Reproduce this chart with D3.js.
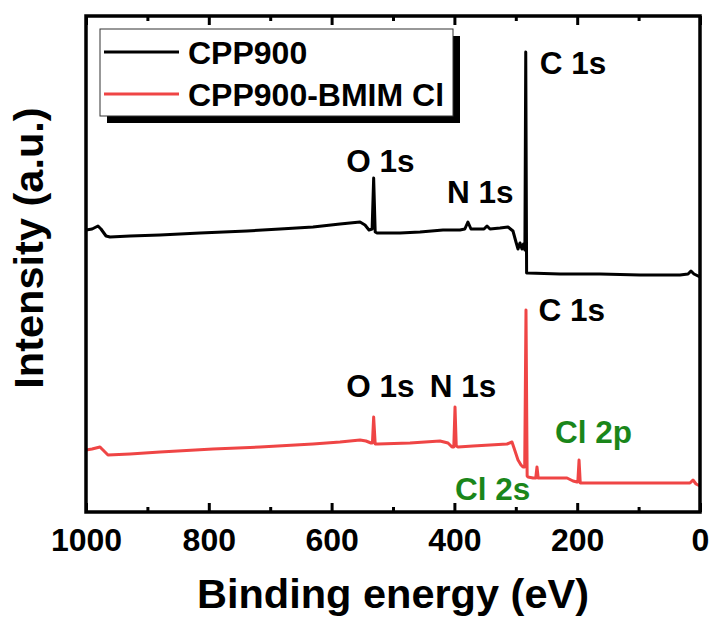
<!DOCTYPE html>
<html>
<head>
<meta charset="utf-8">
<script src="https://cdn.jsdelivr.net/npm/d3@7"></script>
<style>
  html, body { margin: 0; padding: 0; background: #fff; }
  svg { display: block; font-family: Arial, "Liberation Sans", sans-serif; font-weight: bold; }
</style>
</head>
<body>
<svg id="chart" width="712" height="621"></svg>
<script>
// XPS survey spectra: binding energy (eV) vs. intensity (a.u., offset traces)
const seriesNames = ["CPP900", "CPP900-BMIM Cl"];
const seriesColors = ["#000000", "#ef4545"];

const cppEnergy = [1000, 990, 980.5, 975.6, 967.4, 960.9, 928.3, 879.5, 814.3, 737.8, 684, 630.3, 586.3, 553.7, 545.6, 539.1, 534,
  531.5, 529, 526, 488.6, 456, 418.6, 391, 383, 378, 373, 358.3, 351.8, 346.9, 342, 325.7, 312.7, 304.6, 299.7, 296.4, 293.2,
  289.9, 287.5, 285.2, 283.8, 282.4, 280.1, 228, 162.9, 97.7, 32.6, 19.5, 14.7, 9.8, 0];
const cppIntensity = [282, 283, 286, 283, 276, 275, 276, 277, 279, 281, 283, 285, 288, 290, 287, 282, 283,
  334, 280, 279, 279, 280, 282, 282, 283, 290, 283, 283, 283, 286, 283, 284, 285, 281, 270, 263, 269,
  263, 268, 262, 460, 239, 239, 238, 238, 237, 237, 238, 241, 238, 235];

const bmimEnergy = [1000, 990.2, 977.2, 972.3, 964.2, 928.3, 879.5, 793.2, 716.6, 630.3, 586.3, 553.7, 544, 535.8, 533.5,
  531.5, 529, 524.4, 472.3, 423.5, 410.4, 403.9, 401, 399, 397, 394.1, 369.7, 342, 314.3, 306.2, 302.9, 296.4, 291.5,
  288.3, 285.5, 283.4, 281.5, 280.1, 272, 267.5, 265.5, 263.5, 260.6, 216.6, 206.8, 200.3, 199, 197, 195, 192.2,
  130.3, 65.1, 16.3, 11.4, 6.5, 0];
const bmimIntensity = [62, 63, 65, 62, 57, 58, 60, 63, 65, 68, 70, 72, 71, 69, 69,
  95, 68, 68, 69, 71, 69, 65, 65, 105, 66, 65, 66, 67, 68, 70, 64, 52, 47,
  45, 45, 202, 36, 35, 34, 34, 45, 34, 34, 34, 31, 30, 30, 52, 29, 29,
  29, 29, 29, 32, 28, 26];

const xTicksMajor = [1000, 800, 600, 400, 200, 0];
const xTicksMinor = [900, 700, 500, 300, 100];

// Peak annotations: text, energy at the label's left edge, intensity at its baseline, colour
const peakLabels = ["C 1s", "O 1s", "N 1s", "C 1s", "O 1s", "N 1s", "Cl 2p", "Cl 2s"];
const peakLabelE = [261, 576, 412, 263, 576, 440, 236, 399];
const peakLabelV = [438, 340, 309, 191, 115, 115, 69, 12];
const peakLabelColors = ["#000", "#000", "#000", "#000", "#000", "#000", "#1a861a", "#1a861a"];

const W = 712, H = 621;
const margin = { left: 86, right: 12, top: 16, bottom: 109 };
const plotW = W - margin.left - margin.right;   // 614
const plotH = H - margin.top - margin.bottom;   // 496

const x = d3.scaleLinear().domain([1000, 0]).range([0, plotW]);
const y = d3.scaleLinear().domain([0, 496]).range([plotH, 0]);

const svg = d3.select("#chart");
const g = svg.append("g").attr("transform", `translate(${margin.left},${margin.top})`);

g.append("clipPath").attr("id", "plotClip")
  .append("rect").attr("width", plotW).attr("height", plotH);

// spectra
const line = d3.line().x(d => x(d[0])).y(d => y(d[1]));
const spectra = [
  d3.zip(cppEnergy, cppIntensity),
  d3.zip(bmimEnergy, bmimIntensity)
];
g.append("g").attr("clip-path", "url(#plotClip)")
  .selectAll("path").data(spectra).join("path")
  .attr("d", line)
  .attr("fill", "none")
  .attr("stroke", (d, i) => seriesColors[i])
  .attr("stroke-width", 3)
  .attr("stroke-linejoin", "round");

// peak labels
g.selectAll("text.peak").data(peakLabels).join("text")
  .attr("class", "peak")
  .attr("x", (d, i) => x(peakLabelE[i]))
  .attr("y", (d, i) => y(peakLabelV[i]))
  .attr("font-size", 31.5)
  .attr("fill", (d, i) => peakLabelColors[i])
  .text(d => d);

// axes: ticks inward on bottom and top
function styleAxis(sel) {
  sel.select(".domain").remove();
  sel.selectAll(".tick line").attr("stroke", "#000").attr("stroke-width", 3);
}
const bottomMajor = g.append("g").attr("transform", `translate(0,${plotH})`)
  .call(d3.axisBottom(x).tickValues(xTicksMajor).tickSize(-9).tickFormat(d3.format("d")));
styleAxis(bottomMajor);
bottomMajor.selectAll(".tick text")
  .attr("dy", null).attr("y", 38.5)
  .attr("font-size", 32).attr("font-weight", "bold")
  .attr("font-family", "Arial, 'Liberation Sans', sans-serif")
  .attr("fill", "#000");
const bottomMinor = g.append("g").attr("transform", `translate(0,${plotH})`)
  .call(d3.axisBottom(x).tickValues(xTicksMinor).tickSize(-5).tickFormat(""));
styleAxis(bottomMinor);
const topMajor = g.append("g")
  .call(d3.axisTop(x).tickValues(xTicksMajor).tickSize(-9).tickFormat(""));
styleAxis(topMajor);
const topMinor = g.append("g")
  .call(d3.axisTop(x).tickValues(xTicksMinor).tickSize(-5).tickFormat(""));
styleAxis(topMinor);

// frame
g.append("rect").attr("width", plotW).attr("height", plotH)
  .attr("fill", "none").attr("stroke", "#000").attr("stroke-width", 3.5);

// axis titles
svg.append("text")
  .attr("x", margin.left + plotW / 2).attr("y", 608)
  .attr("text-anchor", "middle").attr("font-size", 41.5)
  .text("Binding energy (eV)");
svg.append("text")
  .attr("transform", `translate(43,${margin.top + 232}) rotate(-90)`)
  .attr("text-anchor", "middle").attr("font-size", 41.5)
  .text("Intensity (a.u.)");

// legend with drop shadow
const legend = svg.append("g").attr("transform", "translate(100,29)");
legend.append("rect").attr("x", 7).attr("y", 7).attr("width", 353).attr("height", 87).attr("fill", "#000");
legend.append("rect").attr("width", 353).attr("height", 87)
  .attr("fill", "#fff").attr("stroke", "#333").attr("stroke-width", 1);
const items = legend.selectAll("g.item").data(seriesNames).join("g")
  .attr("class", "item")
  .attr("transform", (d, i) => `translate(0,${23 + i * 42})`);
items.append("line").attr("x1", 4).attr("x2", 79)
  .attr("stroke", (d, i) => seriesColors[i]).attr("stroke-width", 3);
items.append("text").attr("x", 88).attr("y", 12)
  .attr("font-size", 32).text(d => d);
</script>
</body>
</html>
